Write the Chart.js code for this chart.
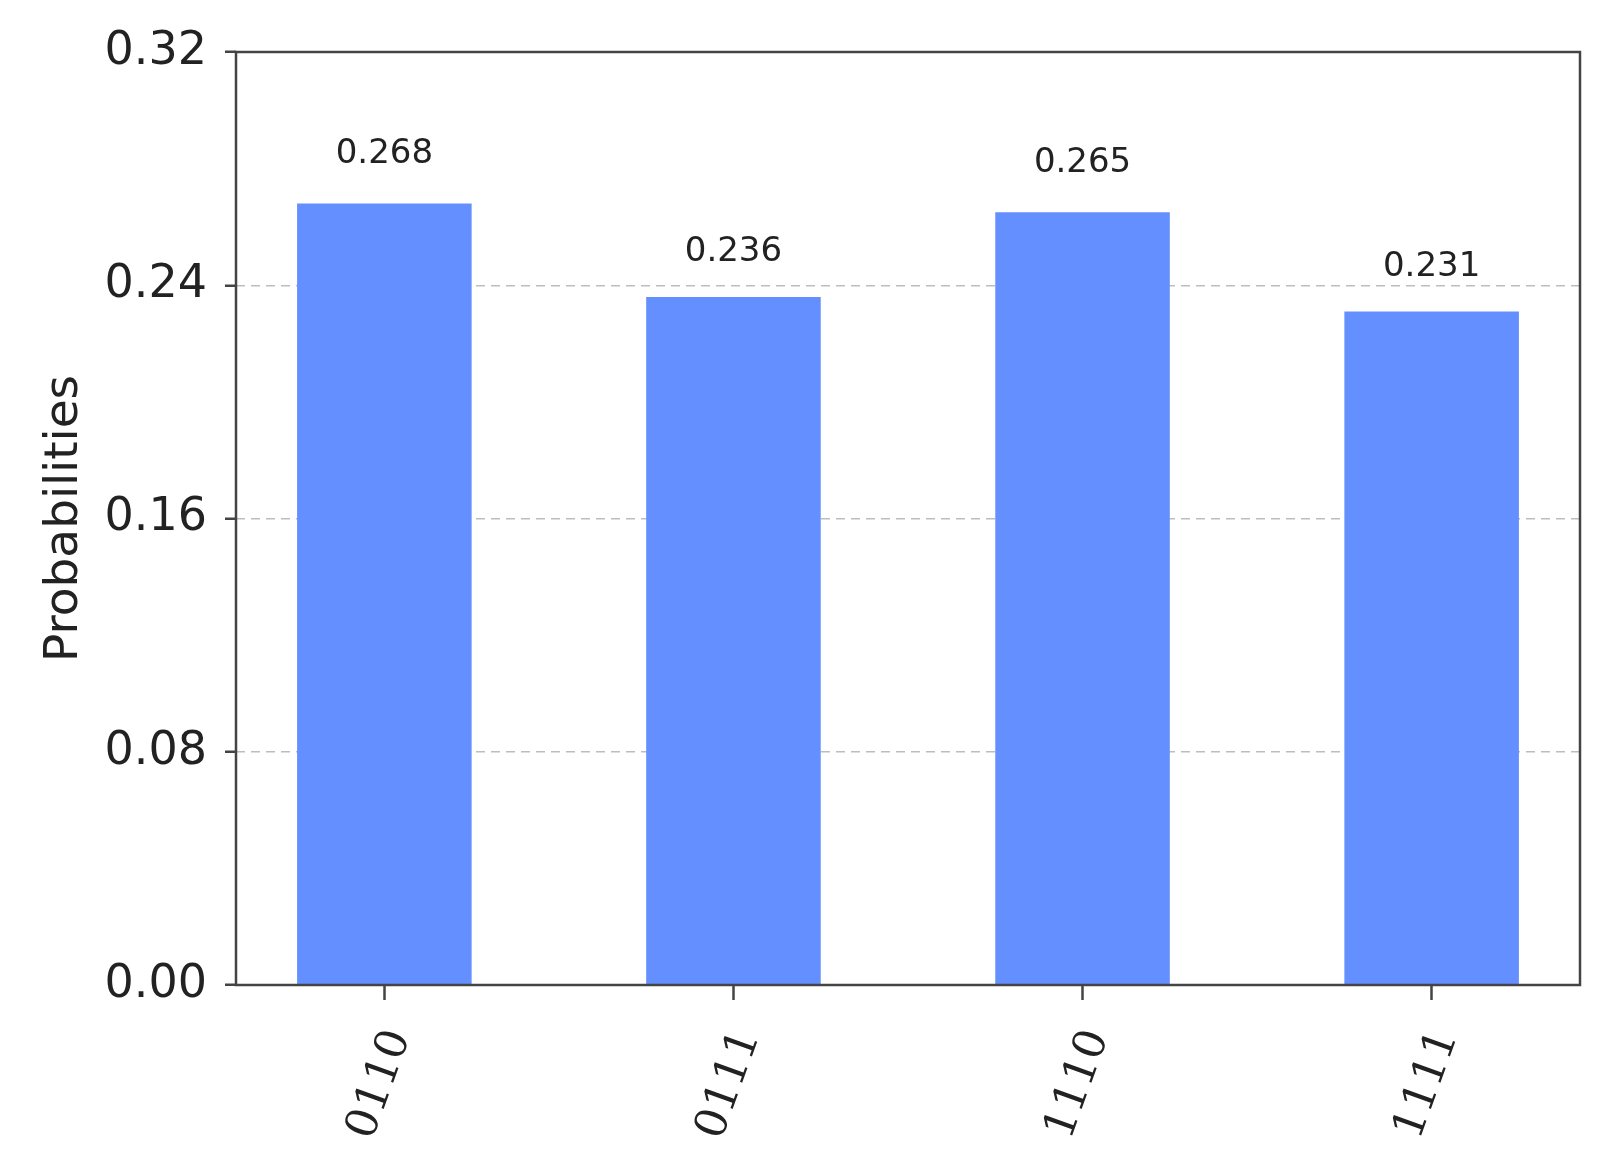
<!DOCTYPE html>
<html>
<head>
<meta charset="utf-8">
<title>Probabilities</title>
<script src="https://cdn.jsdelivr.net/npm/chart.js@4.4.0/dist/chart.umd.min.js"></script>
<style>
  html, body { margin: 0; padding: 0; background: #fff; }
  #wrap { width: 1619px; height: 1175px; }
</style>
</head>
<body>
<div id="wrap"><canvas id="hist"></canvas></div>
<script>
// measured bitstrings and their probabilities
const states = ["0110", "0111", "1110", "1111"];
const probs = [0.268, 0.236, 0.265, 0.231];
const yTicks = [0, 0.08, 0.16, 0.24, 0.32];

const ink = '#222';
const spine = '#444';

// box round the plot area (all four sides, like matplotlib spines)
const frame = {
  id: 'frame',
  afterDatasetsDraw(chart) {
    const { ctx, chartArea: a } = chart;
    ctx.save();
    ctx.strokeStyle = spine;
    ctx.lineWidth = 2.5;
    ctx.strokeRect(a.left, a.top, a.right - a.left, a.bottom - a.top);
    ctx.restore();
  }
};

// value text above each bar, placed at 1.05 * height
const barLabels = {
  id: 'barLabels',
  afterDatasetsDraw(chart) {
    const ctx = chart.ctx, y = chart.scales.y;
    ctx.save();
    ctx.font = '34px "DejaVu Sans"';
    ctx.fillStyle = ink;
    ctx.textAlign = 'center';
    ctx.textBaseline = 'alphabetic';
    chart.getDatasetMeta(0).data.forEach((bar, i) => {
      ctx.fillText(probs[i].toFixed(3), bar.x, y.getPixelForValue(probs[i] * 1.05) - 2);
    });
    ctx.restore();
  }
};

new Chart(document.getElementById('hist'), {
  type: 'bar',
  data: {
    datasets: [{
      label: 'Probabilities',
      data: states.map((s, i) => ({ x: i, y: probs[i] })),
      backgroundColor: '#648fff',
      barPercentage: 0.5,
      categoryPercentage: 1
    }]
  },
  options: {
    responsive: true,
    maintainAspectRatio: false,
    animation: false,
    layout: { padding: { top: 52, right: 39, left: 0, bottom: 0 } },
    plugins: { legend: { display: false }, tooltip: { enabled: false } },
    scales: {
      x: {
        type: 'linear',
        offset: false,
        min: -0.425,
        max: states.length - 1 + 0.425,
        afterBuildTicks: (scale) => { scale.ticks = states.map((s, i) => ({ value: i })); },
        afterFit: (scale) => { scale.height = 190; },
        grid: {
          offset: false,
          drawOnChartArea: false,
          drawTicks: true,
          tickLength: 15,
          tickColor: spine,
          tickWidth: 2.5,
          tickBorderDash: []
        },
        border: { display: false },
        ticks: {
          autoSkip: false,
          minRotation: 70,
          maxRotation: 70,
          padding: 23,
          labelOffset: 15,
          color: ink,
          font: { family: 'DejaVu Serif', size: 44 },
          callback: (v) => states[v]
        }
      },
      y: {
        min: 0,
        max: 0.32,
        afterBuildTicks: (scale) => { scale.ticks = yTicks.map(v => ({ value: v })); },
        afterFit: (scale) => { scale.width = 236; },
        grid: {
          color: '#bdbdbd',
          lineWidth: 1.5,
          drawTicks: true,
          tickLength: 11,
          tickColor: spine,
          tickWidth: 2.5,
          tickBorderDash: []
        },
        border: { display: false, dash: [9, 6] },
        ticks: {
          padding: 18,
          color: ink,
          font: { family: 'DejaVu Sans', size: 46 },
          callback: (v) => v.toFixed(2)
        },
        title: {
          display: true,
          text: 'Probabilities',
          color: ink,
          font: { family: 'DejaVu Sans', size: 47 },
          padding: { top: 37, bottom: 0 }
        }
      }
    }
  },
  plugins: [frame, barLabels]
});
</script>
</body>
</html>
